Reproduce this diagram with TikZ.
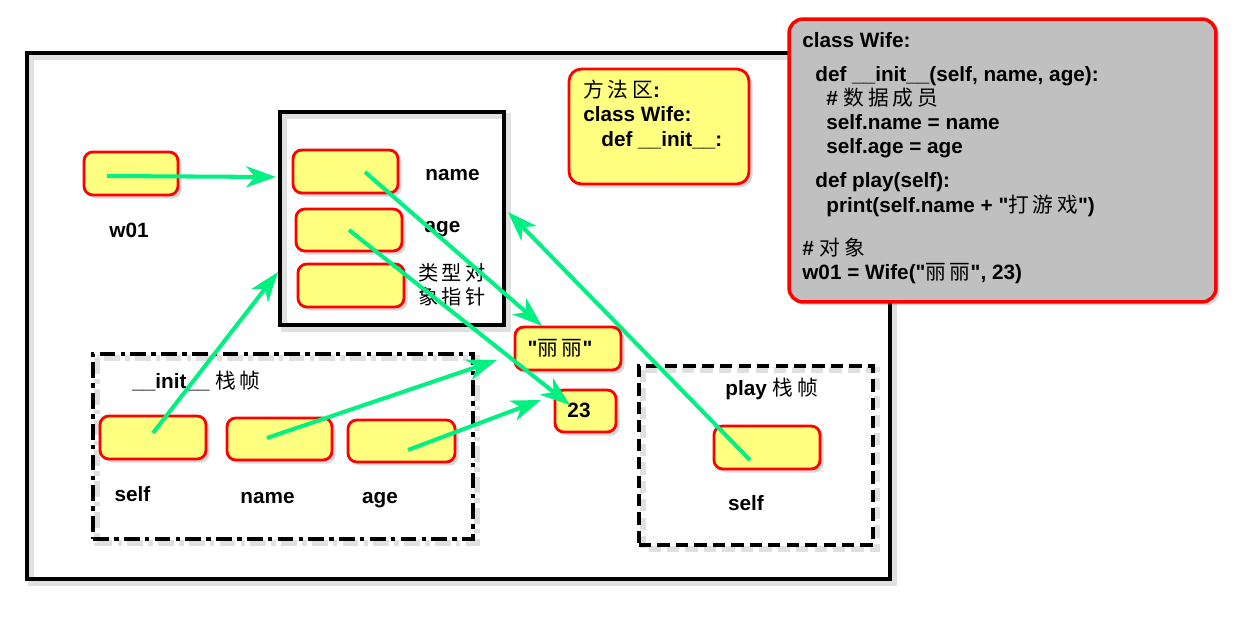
\documentclass[tikz,border=0pt]{standalone}
\usepackage{fontspec}
\setmainfont{Liberation Sans}[Ligatures=TeXOff]
\newfontfamily\cjk[LetterSpace=18]{Noto Sans CJK SC}
\usetikzlibrary{arrows.meta,shadows,calc,backgrounds}
\definecolor{boxyellow}{RGB}{255,255,128}
\definecolor{codegray}{RGB}{192,192,192}
\definecolor{arrowgreen}{RGB}{0,240,130}
\tikzset{
  cell/.style={draw=red, fill=boxyellow, line width=1.6pt, rounded corners=5pt,
    inner sep=0pt, outer sep=0pt,
    drop shadow={shadow xshift=2pt, shadow yshift=-2pt, opacity=0.3}},
  frame/.style={draw=black, line width=2.4pt, inner sep=0pt, outer sep=0pt},
  fshadow/.style={draw=black, opacity=0.12, line width=3pt},
  lbl/.style={font=\fontsize{11.8}{13}\selectfont\bfseries, inner sep=0pt},
  zh/.style={font=\fontsize{11.5}{13}\selectfont\cjk, inner sep=0pt},
  arr/.style={draw=arrowgreen, line width=2.3pt,
    -{Stealth[length=17pt, width=12pt, inset=5pt]}},
}
\begin{document}
\begin{tikzpicture}[x=0.02cm, y=-0.02cm]
\useasboundingbox (0,0) rectangle (1244,630);
% frames
\node[frame, minimum width=17.26cm, minimum height=10.52cm] (outer) at (458.5,316) {};
\node[frame, minimum width=4.48cm, minimum height=4.26cm] (obj) at (392,218.5) {};
\node[frame, dash pattern=on 9pt off 3pt on 2.5pt off 3pt, minimum width=7.6cm, minimum height=3.7cm] (initf) at (283,446.5) {};
\node[frame, dash pattern=on 7pt off 3.5pt, minimum width=4.68cm, minimum height=3.58cm] (playf) at (756,455.5) {};
\begin{scope}[on background layer]
  \draw[fshadow] ($(outer.north west)+(4,4)$) rectangle ($(outer.south east)+(4,4)$);
  \draw[fshadow] ($(obj.north west)+(4,4)$) rectangle ($(obj.south east)+(4,4)$);
  \draw[fshadow, dash pattern=on 9pt off 3pt on 2.5pt off 3pt] ($(initf.north west)+(4,4)$) rectangle ($(initf.south east)+(4,4)$);
  \draw[fshadow, dash pattern=on 7pt off 3.5pt] ($(playf.north west)+(4,4)$) rectangle ($(playf.south east)+(4,4)$);
\end{scope}
% code box
\node[cell, fill=codegray, line width=2pt, rounded corners=8pt, minimum width=8.54cm, minimum height=5.66cm] (code) at (1002.5,160.5) {};
\node[lbl, anchor=base west] (c1) at (802,47) {class Wife:};
\node[lbl, anchor=base west] (c2) at (815,81) {def \_\_init\_\_(self, name, age):};
\node[lbl, anchor=base west] (c3) at (826,105) {\# {\cjk\mdseries 数据成员}};
\node[lbl, anchor=base west] (c4) at (826,129) {self.name = name};
\node[lbl, anchor=base west] (c5) at (826,153) {self.age = age};
\node[lbl, anchor=base west] (c6) at (815,187) {def play(self):};
\node[lbl, anchor=base west] (c7) at (826,212) {print(self.name + "{\cjk\mdseries 打游戏}")};
\node[lbl, anchor=base west] (c8) at (802,255) {\# {\cjk\mdseries 对象}};
\node[lbl, anchor=base west] (c9) at (802,279) {w01 = Wife("{\cjk\mdseries 丽丽}", 23)};
% method area
\node[cell, minimum width=3.6cm, minimum height=2.3cm, rounded corners=7pt] (mbox) at (659,126.5) {};
\node[lbl, anchor=base west] (m1) at (583,97.7) {{\cjk\mdseries 方法区}:};
\node[lbl, anchor=base west] (m2) at (583,121.7) {class Wife:};
\node[lbl, anchor=base west] (m3) at (601,146) {def \_\_init\_\_:};
% cells
\node[cell, minimum width=1.88cm, minimum height=0.86cm] (w01) at (131,173.5) {};
\node[cell, minimum width=2.1cm, minimum height=0.86cm] (oname) at (345.5,171.5) {};
\node[cell, minimum width=2.12cm, minimum height=0.84cm] (oage) at (349,230) {};
\node[cell, minimum width=2.12cm, minimum height=0.86cm] (optr) at (351,285.5) {};
\node[cell, minimum width=2.12cm, minimum height=0.86cm] (iself) at (153,437.5) {};
\node[cell, minimum width=2.1cm, minimum height=0.84cm] (iname) at (279.5,439) {};
\node[cell, minimum width=2.14cm, minimum height=0.84cm] (iage) at (401.5,441) {};
\node[cell, minimum width=2.12cm, minimum height=0.86cm] (lili) at (568,348.5) {};
\node[cell, minimum width=1.22cm, minimum height=0.84cm] (v23) at (585.5,411) {};
\node[cell, minimum width=2.12cm, minimum height=0.86cm] (pself) at (767,447.5) {};
% labels
\node[lbl, anchor=base] (lname) at (452.5,180) {name};
\node[lbl, anchor=base] (lage) at (442.5,232) {age};
\node[zh] (lptr1) at (452,273) {类型对};
\node[zh] (lptr2) at (452,297) {象指针};
\node[lbl] (lw01) at (129,230) {w01};
\node[lbl, anchor=base west] (linit) at (132,388) {\_\_init\_\_ {\cjk\mdseries 栈帧}};
\node[lbl, anchor=base west] (lplay) at (725,395) {play {\cjk\mdseries 栈帧}};
\node[lbl, anchor=base] (lself) at (132.5,501) {self};
\node[lbl, anchor=base] (liname) at (267.5,503) {name};
\node[lbl, anchor=base] (liage) at (380,503) {age};
\node[lbl, anchor=base] (lpself) at (746,510) {self};
\node[lbl] (tlili) at (560,348) {"{\cjk\mdseries 丽丽}"};
\node[lbl] (t23) at (579,410) {23};
% arrow targets
\coordinate (t1) at (276,177);
\coordinate (t2) at (278,272);
\coordinate (t3) at (508,212);
\coordinate (t4) at (542,326);
\coordinate (t5) at (497,360);
\coordinate (t6) at (541,400);
\coordinate (t7) at (570,405);
% arrows
\draw[arr] ($(w01)+(-24,2.5)$) -- (t1);
\draw[arr] ($(iself)+(0,-4.5)$) -- (t2);
\draw[arr] ($(pself)+(-17,12.5)$) -- (t3);
\draw[arr] ($(oname)+(19.5,0.5)$) -- (t4);
\draw[arr] ($(iname)+(-12.5,-1)$) -- (t5);
\draw[arr] ($(iage)+(6.5,9)$) -- (t6);
\draw[arr] (oage.center) -- (t7);
\end{tikzpicture}
\end{document}
